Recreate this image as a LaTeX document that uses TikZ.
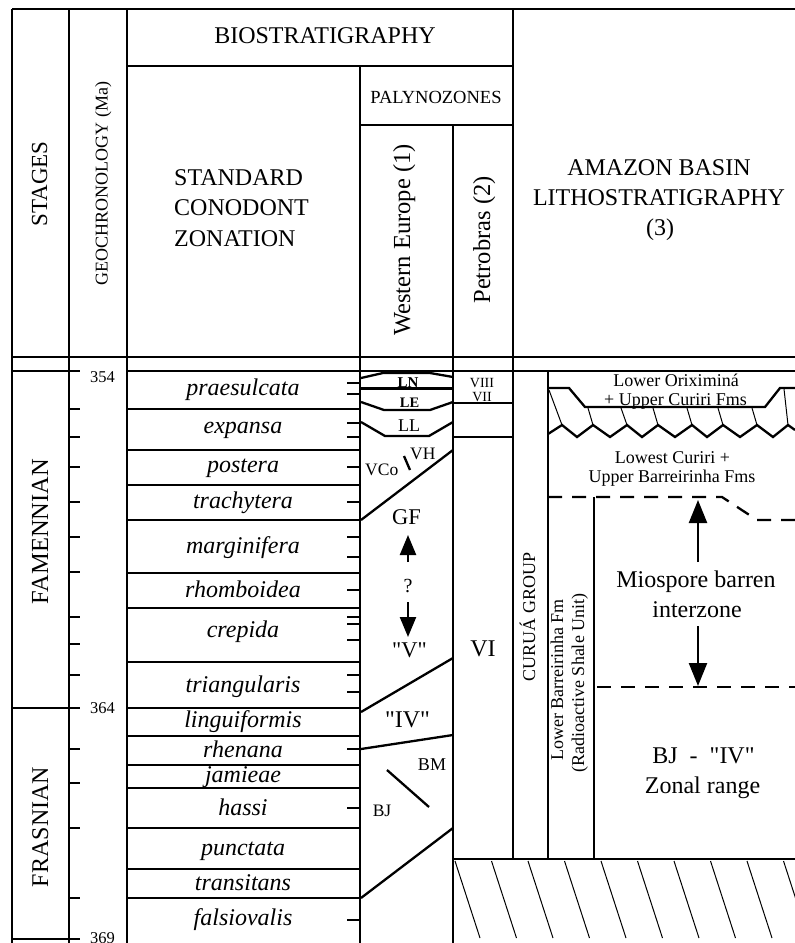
\documentclass[tikz,border=0pt]{standalone}
\usepackage{fontspec}
\setmainfont{Liberation Serif}
\newfontfamily\qfont{Liberation Serif}
\usetikzlibrary{arrows.meta}
\newcommand{\myfs}[1]{\fontsize{#1}{#1}\selectfont}
\newcommand{\sq}{{\qfont"}}
\begin{document}
\begin{tikzpicture}[x=1pt,y=-1pt,
  frame/.style={line width=2.7pt},
  thinl/.style={line width=1pt},
  med/.style={line width=2.3pt},
  lbl/.style={inner sep=0pt, anchor=base},
  lblw/.style={inner sep=0pt, anchor=base west},
  vlbl/.style={inner sep=0pt, anchor=base, rotate=90},
  cono/.style={lbl, font={\myfs{24}\itshape}},
  dsh/.style={med, dash pattern=on 14pt off 10pt},
  bigtip/.style={med, -{Triangle[length=23pt,width=18pt]}},
  smalltip/.style={med, -{Triangle[length=20pt,width=16pt]}}]
\fill[white] (0,0) rectangle (795,943);
\useasboundingbox (0,0) rectangle (795,943);

% ---------- frame ----------
\draw[frame] (12,9) -- (795,9);
\draw[frame] (12,9) -- (12,943);
\draw[frame] (69,9) -- (69,943);
\draw[frame] (127,9) -- (127,943);
\draw[frame] (127,66) -- (513,66);
\draw[frame] (360,66) -- (360,943);
\draw[frame] (360,125) -- (513,125);
\draw[frame] (453,125) -- (453,943);
\draw[frame] (513,9) -- (513,859);
\draw[frame] (12,357) -- (795,357);
\draw[frame] (12,371) -- (80,371);
\draw[frame] (127,371) -- (795,371);
\draw[frame] (12,708) -- (80,708);
\draw[frame] (12,939) -- (80,939);

% geochronology ticks
\foreach \yy in {409,437,467,502,537,572,617,644,675,749,783,828,898}
  \draw[frame] (69,\yy) -- (80,\yy);
% conodont zone boundaries
\foreach \yy in {409,450,485,520,573,608,662,708,736,765,788,828,869,898}
  \draw[frame] (127,\yy) -- (360,\yy);
% conodont column ticks
\foreach \yy in {383,394,423,437,467,502,537,557,590,617,624,640,675,692,749,808,920}
  \draw[frame] (347,\yy) -- (360,\yy);

% ---------- header texts ----------
\node[lbl, font={\myfs{24}}] (bio) at (325,43) {BIOSTRATIGRAPHY};
\node[lbl, font={\myfs{18.5}}] (paly) at (436,103) {PALYNOZONES};
\node[lblw, font={\myfs{24}}] (std1) at (174,185) {STANDARD};
\node[lblw, font={\myfs{24}}] (std2) at (174,215) {CONODONT};
\node[lblw, font={\myfs{24}}] (std3) at (174,246) {ZONATION};
\node[lbl, font={\myfs{24}}] (am1) at (659,175) {AMAZON BASIN};
\node[lbl, font={\myfs{24}}] (am2) at (659,205) {LITHOSTRATIGRAPHY};
\node[lbl, font={\myfs{24}}] (am3) at (660,235) {(3)};
\node[vlbl, font={\myfs{23}}] (stages) at (47,184) {STAGES};
\node[vlbl, font={\myfs{18}}] (geo) at (107.5,183.5) {GEOCHRONOLOGY (Ma)};
\node[vlbl, font={\myfs{24.5}}] (weu) at (410,240) {Western Europe (1)};
\node[vlbl, font={\myfs{24.5}}] (petro) at (490,240) {Petrobras (2)};

% ---------- stages ----------
\node[vlbl, font={\myfs{24.5}}] (fam) at (48,531.5) {FAMENNIAN};
\node[vlbl, font={\myfs{24}}] (fra) at (48,827) {FRASNIAN};
\node[lblw, font={\myfs{16.5}}] (a354) at (90,382) {354};
\node[lblw, font={\myfs{16.5}}] (a364) at (90,713) {364};
\node[lblw, font={\myfs{16.5}}] (a369) at (90,943) {369};

% ---------- conodont zones ----------
\node[cono] (z1) at (243,395) {praesulcata};
\node[cono] (z2) at (243,433) {expansa};
\node[cono] (z3) at (243,472) {postera};
\node[cono] (z4) at (243,508) {trachytera};
\node[cono] (z5) at (243,553) {marginifera};
\node[cono] (z6) at (243,597) {rhomboidea};
\node[cono] (z7) at (243,637) {crepida};
\node[cono] (z8) at (243,692) {triangularis};
\node[cono] (z9) at (243,727) {linguiformis};
\node[cono] (z10) at (243,757) {rhenana};
\node[cono] (z11) at (243,782) {jamieae};
\node[cono] (z12) at (243,815) {hassi};
\node[cono] (z13) at (243,855) {punctata};
\node[cono] (z14) at (243,890) {transitans};
\node[cono] (z15) at (243,925) {falsiovalis};

% ---------- Western Europe palynozones ----------
\draw[med] (361,378) -- (383,373) -- (430,373) -- (453,377);
\draw[med] (361,388.5) -- (453,388.5);
\draw[med] (361,402) -- (384,410) -- (430,410) -- (453,402);
\draw[med] (361,422) -- (385,436) -- (429,436) -- (453,422);
\draw[med] (404,456) -- (410,470);
\draw[med] (361,520) -- (453,450);
\draw[med] (361,712) -- (453,658);
\draw[med] (361,749) -- (453,735);
\draw[med] (387,770) -- (429,807);
\draw[med] (361,898) -- (453,828);
\node[lbl, font={\myfs{15}\bfseries}] (ln) at (408,387) {LN};
\node[lbl, font={\myfs{14.5}\bfseries}] (le) at (409.5,407) {LE};
\node[lbl, font={\myfs{18}}] (ll) at (409,431) {LL};
\node[lblw, font={\myfs{17.5}}] (vco) at (365,475) {VCo};
\node[lblw, font={\myfs{17.5}}] (vh) at (410,459) {VH};
\node[lbl, font={\myfs{22.5}}] (gf) at (406.5,524) {GF};
\node[lbl, font={\myfs{20}}] (qm) at (408,592) {?};
\node[lbl, font={\myfs{22.5}}] (vq) at (409.5,657) {\sq V\sq};
\node[lbl, font={\myfs{24}}] (ivq) at (407.5,727) {\sq IV\sq};
\node[lbl, font={\myfs{18}}] (bm) at (432,770) {BM};
\node[lbl, font={\myfs{17.5}}] (bj) at (382,816) {BJ};
\draw[smalltip] (408,562) -- (408,535);
\draw[smalltip] (408,602) -- (408,637);

% ---------- Petrobras ----------
\draw[frame] (453,403) -- (513,403);
\draw[frame] (453,437) -- (513,437);
\node[lbl, font={\myfs{14}}] (v8) at (482,387) {VIII};
\node[lbl, font={\myfs{14}}] (v7) at (482,401) {VII};
\node[lbl, font={\myfs{24}}] (v6) at (483,656) {VI};

% ---------- Amazon basin ----------
\draw[frame] (548,371) -- (548,859);
\draw[frame] (594,497) -- (594,859);
\draw[frame] (453,859) -- (795,859);
\draw[med] (548,388) -- (569,388) -- (585,407) -- (765,407) -- (780,388) -- (795,388);
\draw[med] (548,434) -- (562,425) -- (577,437) -- (593,425) -- (610,437) -- (627,425)
  -- (642,437) -- (658,425) -- (675,437) -- (692,425) -- (707,437) -- (723,425)
  -- (740,437) -- (757,425) -- (773,437) -- (788,425) -- (795,430);
\draw[thinl] (549,390) -- (562,425);
\draw[thinl] (588,408) -- (593,425);
\draw[thinl] (621,408) -- (627,425);
\draw[thinl] (653,408) -- (658,425);
\draw[thinl] (687,408) -- (692,425);
\draw[thinl] (718,408) -- (723,425);
\draw[thinl] (752,408) -- (757,425);
\draw[thinl] (784,389) -- (788,425);
\draw[dsh] (548,497) -- (722,497) -- (757,520) -- (795,520);
\draw[dsh] (597,687) -- (795,687);
\draw[bigtip] (698,562) -- (698,500);
\draw[bigtip] (698,626) -- (698,686);
\begin{scope}
  \clip (454,860) rectangle (795,943);
  \foreach \xx in {455,491.5,528,564.5,601,637.5,674,710.5,747,783.5}
    \draw[thinl] (\xx,861) -- ++(25,77);
\end{scope}
\node[vlbl, font={\myfs{18}}] (curua) at (535,617) {CURUÁ GROUP};
\node[vlbl, font={\myfs{18}}] (lbf1) at (563,680) {Lower Barreirinha Fm};
\node[vlbl, font={\myfs{18}}] (lbf2) at (584,683) {(Radioactive Shale Unit)};
\node[lbl, font={\myfs{18}}] (ori1) at (676,386) {Lower Oriximiná};
\node[lbl, font={\myfs{18}}] (ori2) at (675.5,405) {+ Upper Curiri Fms};
\node[lbl, font={\myfs{18}}] (cur1) at (672.5,463) {Lowest Curiri +};
\node[lbl, font={\myfs{18}}] (cur2) at (672,482) {Upper Barreirinha Fms};
\node[lbl, font={\myfs{24}}] (mio1) at (696,587) {Miospore barren};
\node[lbl, font={\myfs{24}}] (mio2) at (697,617) {interzone};
\node[lbl, font={\myfs{24}}] (bjz1) at (703.5,763) {BJ\ \ -\ \ \sq IV\sq};
\node[lbl, font={\myfs{24}}] (bjz2) at (702.5,793) {Zonal range};
\end{tikzpicture}
\end{document}
